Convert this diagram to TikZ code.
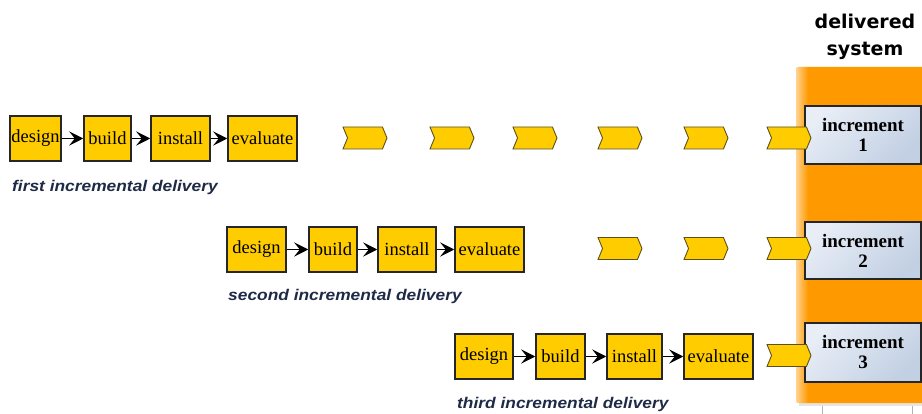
\documentclass[tikz,border=0pt]{standalone}
\usepackage{fontspec}
\setmainfont{Liberation Serif}
\newfontfamily\capfont[FakeStretch=1.12]{Liberation Sans}
\newfontfamily\headfont{DejaVu Sans}
\usetikzlibrary{arrows.meta,shapes.symbols}
\definecolor{boxyellow}{HTML}{FFCC00}
\definecolor{panelorange}{HTML}{FF9900}
\definecolor{captionblue}{HTML}{1E2A46}
\definecolor{incA}{HTML}{E8EDF6}
\definecolor{incB}{HTML}{C2D0E3}
\definecolor{chevedge}{HTML}{5C5020}
\begin{document}
\begin{tikzpicture}[x=1pt,y=-1pt,
  task/.style={draw=black!85, line width=1.5pt, fill=boxyellow, minimum height=45pt,
    inner sep=0pt, font=\fontsize{18.5}{20}\selectfont},
  flow/.style={line width=1.8pt, -{Stealth[length=14pt,width=14pt,inset=5.5pt]}},
  chev/.style={signal, signal from=west, signal to=east, signal pointer angle=135,
    draw=chevedge, line width=0.9pt, fill=boxyellow, minimum width=44pt,
    minimum height=22pt, inner sep=0pt},
  incbox/.style={draw=black!85, line width=1.5pt, minimum width=116pt, align=center,
    inner sep=0pt, font=\bfseries\fontsize{19}{20}\selectfont,
    top color=incA, bottom color=incB, shading angle=45},
  caption/.style={anchor=base west, text=captionblue, inner sep=0pt,
    font=\capfont\bfseries\itshape\fontsize{15.5}{17}\selectfont}
]
\useasboundingbox (0,0) rectangle (922,414);

% delivered system panel
\fill[black!10] (799,72) rectangle (922,406);
\fill[panelorange, rounded corners=3pt] (796,67) rectangle (930,403);
\shade[left color=panelorange!45!white, right color=panelorange] (796.5,67.5) rectangle (808,402.5);
\draw[black!30, line width=0.6pt] (822,406) -- (822,414) (912,406) -- (912,414);

\node[font=\headfont\bfseries\fontsize{19}{27}\selectfont, align=center, inner sep=0pt]
  (title) at (865,37) {delivered\\system};

% delivered increments
\node[incbox, minimum height=58pt] (inc1) at (863,135) {increment\\1};
\node[incbox, minimum height=57pt] (inc2) at (863,250.5) {increment\\2};
\node[incbox, minimum height=59pt] (inc3) at (863,352.5) {increment\\3};

% first incremental delivery
\node[task, minimum width=51pt] (d1) at (35.5,138.5) {design};
\node[task, minimum width=47pt] (b1) at (107.5,138.5) {build};
\node[task, minimum width=59pt] (i1) at (180.5,138.5) {install};
\node[task, minimum width=69pt] (e1) at (262.5,138.5) {evaluate};
\draw[flow] (d1) -- (b1);
\draw[flow] (b1) -- (i1);
\draw[flow] (i1) -- (e1);
\node[caption] (cap1) at (12,191.5) {first incremental delivery};

% second incremental delivery
\node[task, minimum width=59pt] (d2) at (256.5,249.5) {design};
\node[task, minimum width=48pt] (b2) at (333,249.5) {build};
\node[task, minimum width=58pt] (i2) at (407,249.5) {install};
\node[task, minimum width=69pt] (e2) at (489.5,249.5) {evaluate};
\draw[flow] (d2) -- (b2);
\draw[flow] (b2) -- (i2);
\draw[flow] (i2) -- (e2);
\node[caption] (cap2) at (228,300.5) {second incremental delivery};

% third incremental delivery
\node[task, minimum width=58pt] (d3) at (484,356.5) {design};
\node[task, minimum width=49pt] (b3) at (560.5,356.5) {build};
\node[task, minimum width=55pt] (i3) at (634.5,356.5) {install};
\node[task, minimum width=69pt] (e3) at (718.5,356.5) {evaluate};
\draw[flow] (d3) -- (b3);
\draw[flow] (b3) -- (i3);
\draw[flow] (i3) -- (e3);
\node[caption] (cap3) at (457,409) {third incremental delivery};

% chevrons carrying each increment into the delivered system
\node[chev] (c11) at (365,138) {};
\node[chev] (c12) at (452,138) {};
\node[chev] (c13) at (535,138) {};
\node[chev] (c14) at (620,138) {};
\node[chev] (c15) at (706,138) {};
\node[chev] (c16) at (789,138) {};
\node[chev] (c21) at (620,248.5) {};
\node[chev] (c22) at (706,248.5) {};
\node[chev] (c23) at (789,248.5) {};
\node[chev] (c31) at (789,355.5) {};
\end{tikzpicture}
\end{document}
